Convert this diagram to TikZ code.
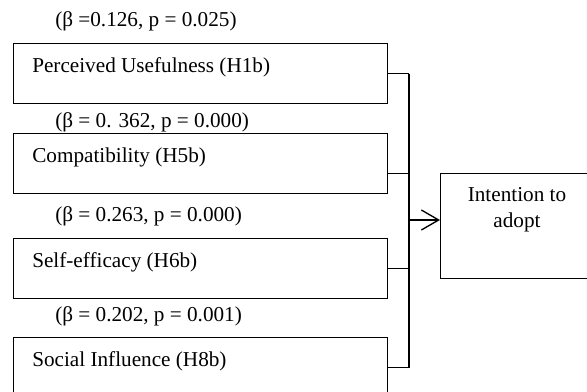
\documentclass[tikz,border=0pt]{standalone}
\usepackage{fontspec}
\setmainfont{Liberation Serif}
\usetikzlibrary{arrows.meta}

\tikzset{
  factor/.style={draw, line width=1pt, minimum width=280.5pt, minimum height=45pt, anchor=north west},
  lbl/.style={inner sep=0pt, anchor=west},
  wire/.style={line width=1pt}
}

\begin{document}
\begin{tikzpicture}[x=0.75pt, y=-0.75pt, every node/.style={font=\fontsize{15.9}{20}\selectfont}]
    \useasboundingbox (0,0) rectangle (587,392);
    \clip (0,0) rectangle (587,392);
    \coordinate (bus) at (409,220);
    % outcome box, cut by the right edge
    \node[factor, minimum width=116.25pt, minimum height=78.75pt] (ita) at (440,173) {};
    \node[inner sep=0pt, align=center, anchor=north] (itatxt) at (517,187) {Intention to\\adopt};
    \foreach \ytop/\id/\txt/\by/\dy/\coef in {
        43/pu/{Perceived Usefulness (H1b)}/21/0pt/{(β =0.126, p = 0.025)},
        133/cb/{Compatibility (H5b)}/122/7.5pt/{(β = 0. 362, p = 0.000)},
        238/se/{Self-efficacy (H6b)}/216/0pt/{(β = 0.263, p = 0.000)},
        337/si/{Social Influence (H8b)}/316/0pt/{(β = 0.202, p = 0.001)}}
    {
      \node[factor] (\id) at (13,\ytop) {};
      \node[lbl] (\id txt) at (32,\ytop+24) {\txt};
      \node[lbl] (\id coef) at (55,\by) {\coef};
      \draw[wire] ([yshift=-\dy]\id.east) -- ([yshift=-\dy]\id.east -| bus);
    }
    \draw[wire] (pu.east -| bus) -- (si.east -| bus);
    \draw[wire, -{Straight Barb[length=13pt, width=15pt]}] (bus) -- (bus -| ita.west);
\end{tikzpicture}
\end{document}
